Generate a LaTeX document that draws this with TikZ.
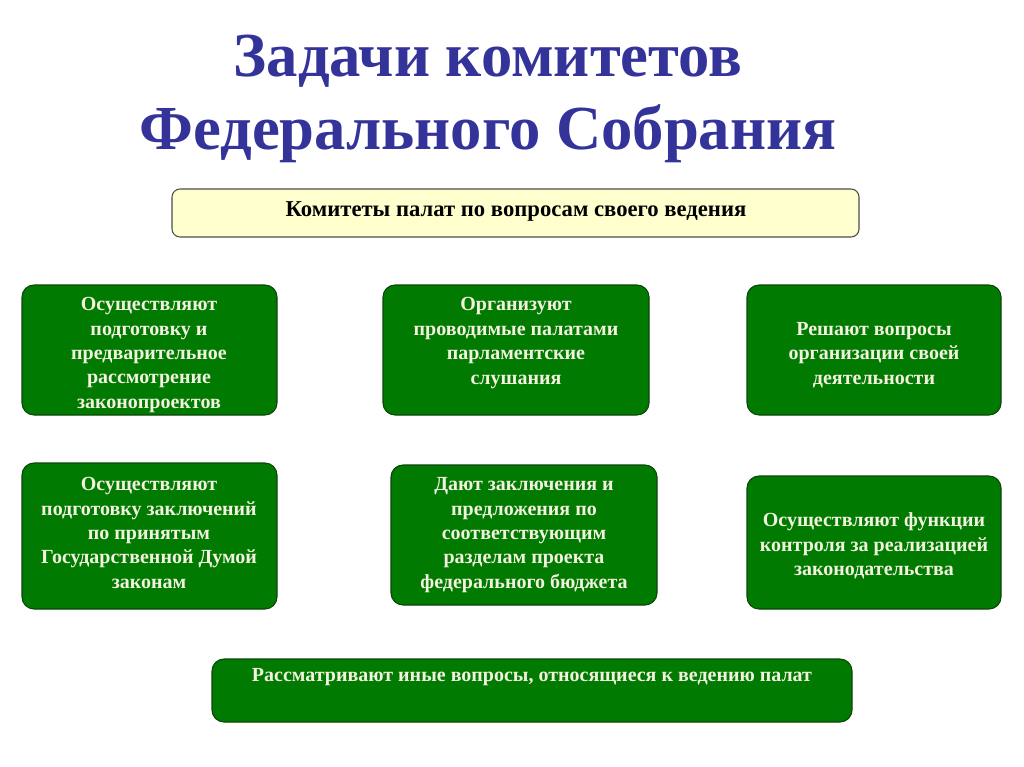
\documentclass[tikz,border=0pt]{standalone}
\usepackage{fontspec}
\setmainfont{Liberation Serif}
\definecolor{titleblue}{RGB}{51,51,153}
\definecolor{boxgreen}{RGB}{0,122,0}
\definecolor{boxedge}{RGB}{10,70,10}
\definecolor{paleyellow}{RGB}{255,255,206}
\definecolor{cream}{RGB}{242,242,222}

\tikzset{
	gbox/.style = {draw=boxedge, thick, fill=boxgreen, rounded corners=9pt},
	ybox/.style = {draw=black!70, thick, fill=paleyellow, rounded corners=6pt},
	gtxt/.style = {text=cream, font=\bfseries\fontsize{15}{18.3}\selectfont, align=center, inner sep=0pt},
	ytxt/.style = {text=black, font=\bfseries\fontsize{17}{20}\selectfont, align=center, inner sep=0pt},
	titletxt/.style = {text=titleblue, font=\bfseries\fontsize{47}{55}\selectfont, align=center, inner sep=0pt}
}

\begin{document}
\begin{tikzpicture}[x=0.75pt, y=-0.75pt]
	\useasboundingbox[fill=white] (0,0) rectangle (1024,767);
	
	% title
	\node[titletxt] (title) at (488,99) {Задачи комитетов\\Федерального Собрания};
	
	% boxes
	\draw[ybox] (172,189) rectangle (859,237);
	\draw[gbox] (22,285) rectangle (277,415); \draw[gbox] (383,285) rectangle (649,415); \draw[gbox] (747,285) rectangle (1001,415);
	\draw[gbox] (22,463) rectangle (277,609); \draw[gbox] (391,465) rectangle (657,605); \draw[gbox] (747,476) rectangle (1001,609);
	\draw[gbox] (212,659) rectangle (852,722);
	
	% texts
	\node[ytxt] (head) at (516,211) {Комитеты палат по вопросам своего ведения};
	\node[gtxt] (t11) at (149,355) {Осуществляют\\подготовку и\\предварительное\\рассмотрение\\законопроектов};
	\node[gtxt] (t12) at (516,343) {Организуют\\проводимые палатами\\парламентские\\слушания};
	\node[gtxt] (t13) at (874,355) {Решают вопросы\\организации своей\\деятельности};
	\node[gtxt] (t21) at (149,533) {Осуществляют\\подготовку заключений\\по принятым\\Государственной Думой\\законам};
	\node[gtxt] (t22) at (524,535) {Дают заключения и\\предложения по\\соответствующим\\разделам проекта\\федерального бюджета};
	\node[gtxt] (t23) at (874,546) {Осуществляют функции\\контроля за реализацией\\законодательства};
	\node[gtxt] (t31) at (532,677) {Рассматривают иные вопросы, относящиеся к ведению палат};
\end{tikzpicture}
\end{document}
